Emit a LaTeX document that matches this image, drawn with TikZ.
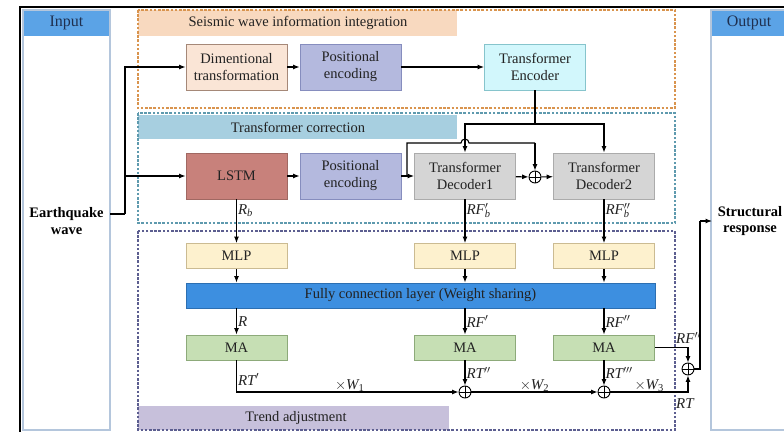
\documentclass[tikz,border=0pt]{standalone}
\usepackage{fontspec}
\setmainfont{Liberation Serif}
\usetikzlibrary{arrows.meta}
\definecolor{hdrblue}{HTML}{5BA3E6}
\definecolor{panelline}{HTML}{B4C6DC}
\definecolor{navy}{HTML}{1F3050}
\definecolor{orgline}{HTML}{D9944E}
\definecolor{orgfill}{HTML}{F8D9BF}
\definecolor{tealline}{HTML}{5E9AAE}
\definecolor{tealfill}{HTML}{A7CFE0}
\definecolor{purpline}{HTML}{5C5E90}
\definecolor{purpfill}{HTML}{C7C0DB}
\definecolor{dimfill}{HTML}{FAE5D6}
\definecolor{dimline}{HTML}{A58878}
\definecolor{posfill}{HTML}{B4B9DE}
\definecolor{posline}{HTML}{868DBE}
\definecolor{encfill}{HTML}{D2F7FC}
\definecolor{encline}{HTML}{86C4CC}
\definecolor{lstmfill}{HTML}{C8817B}
\definecolor{lstmline}{HTML}{A06862}
\definecolor{decfill}{HTML}{D5D5D5}
\definecolor{decline}{HTML}{ABABAB}
\definecolor{mlpfill}{HTML}{FDF1CE}
\definecolor{mlpline}{HTML}{CBBB92}
\definecolor{fcfill}{HTML}{3D8FE0}
\definecolor{fcline}{HTML}{2C6FB2}
\definecolor{mafill}{HTML}{C6DFB4}
\definecolor{maline}{HTML}{8DAA7A}
\definecolor{txt}{HTML}{222222}
\newcommand{\pr}{$^{\prime}$}
\newcommand{\ppr}{$^{\prime\prime}$}
\newcommand{\pppr}{$^{\prime\prime\prime}$}
\begin{document}
\begin{tikzpicture}[x=1pt,y=-1pt,
  every node/.style={text=txt},
  boxtxt/.style={font=\fontsize{14.5}{17}\selectfont},
  blk/.style={draw, line width=0.9pt, minimum width=101pt, minimum height=46pt,
    inner sep=0pt, align=center, boxtxt},
  thin/.style={blk, minimum height=25pt},
  zone/.style={line width=1.4pt, dash pattern=on 2.6pt off 1.6pt},
  wire/.style={line width=1.1pt, black},
  arr/.style={wire, -{Latex[length=6.5pt,width=5pt]}},
  sumnode/.style={circle, draw, line width=0.9pt, minimum size=12pt, inner sep=0pt,
    path picture={\draw[line width=0.9pt]
      (path picture bounding box.north) -- (path picture bounding box.south)
      (path picture bounding box.west) -- (path picture bounding box.east);}},
  lbl/.style={anchor=west, inner sep=1pt, font=\fontsize{15}{16}\selectfont\itshape},
  bold/.style={align=center, font=\fontsize{14.5}{16.5}\selectfont\bfseries, text=black},
  title/.style={font=\fontsize{16}{18}\selectfont, text=navy}
]
\useasboundingbox (0,0) rectangle (784,431);

% outer frame
\draw[line width=1.3pt, black] (20,440) -- (20,7) -- (800,7);

% input / output panels
\fill[hdrblue] (23,10) rectangle (110,36);
\draw[panelline, line width=1.6pt] (23,10) rectangle (110,430);
\node[title] (intitle) at (66.5,23) {Input};
\fill[hdrblue] (711,10) rectangle (795,36);
\draw[panelline, line width=1.6pt] (711,10) rectangle (795,430);
\node[title] (outtitle) at (749,23) {Output};

\node[bold] (eq) at (66.5,221) {Earthquake\\wave};
\node[bold] (sr) at (750,221) {Structural\\response};

% stage zones
\fill[orgfill] (138,10) rectangle (457,36);
\draw[zone, orgline] (138,10) rectangle (675,108);
\node[boxtxt] (z1) at (298,23) {Seismic wave information integration};

\fill[tealfill] (138,115) rectangle (457,139);
\draw[zone, tealline] (138,113) rectangle (675,223);
\node[boxtxt] (z2) at (298,127) {Transformer correction};

\fill[purpfill] (138,406) rectangle (449,430);
\draw[zone, purpline] (138,231) rectangle (675,430);
\node[boxtxt] (z3) at (296,418) {Trend adjustment};

% blocks
\node[blk, fill=dimfill, draw=dimline] (dim) at (236.5,67) {Dimentional\\transformation};
\node[blk, fill=posfill, draw=posline] (pos1) at (350.5,67) {Positional\\encoding};
\node[blk, fill=encfill, draw=encline] (enc) at (535,67) {Transformer\\Encoder};

\node[blk, fill=lstmfill, draw=lstmline] (lstm) at (236.5,176) {LSTM};
\node[blk, fill=posfill, draw=posline] (pos2) at (350.5,176) {Positional\\encoding};
\node[blk, fill=decfill, draw=decline] (dec1) at (465,176) {Transformer\\Decoder1};
\node[blk, fill=decfill, draw=decline] (dec2) at (604,176) {Transformer\\Decoder2};
\node[sumnode] (s0) at (535,177) {};

\node[thin, fill=mlpfill, draw=mlpline] (mlp1) at (236.5,256) {MLP};
\node[thin, fill=mlpfill, draw=mlpline] (mlp2) at (465,256) {MLP};
\node[thin, fill=mlpfill, draw=mlpline] (mlp3) at (604,256) {MLP};

\node[thin, fill=fcfill, draw=fcline, minimum width=469pt] (fc) at (420.5,295.5)
  {Fully connection layer (Weight sharing)};

\node[thin, fill=mafill, draw=maline] (ma1) at (236.5,347.5) {MA};
\node[thin, fill=mafill, draw=maline] (ma2) at (465,347.5) {MA};
\node[thin, fill=mafill, draw=maline] (ma3) at (604,347.5) {MA};

\node[sumnode] (s1) at (465,392) {};
\node[sumnode] (s2) at (604,392) {};
\node[sumnode] (s3) at (688,369) {};

% input distribution
\coordinate (eqout) at (110,214);
\coordinate (split) at (125,214);
\draw[wire] (eqout) -- (split);
\draw[arr] (split) |- (dim.west);
\draw[arr] (split) |- (lstm.west);

% upper chain
\draw[arr] (dim) -- (pos1);
\draw[arr] (pos1) -- (enc);
\draw[arr] (lstm) -- (pos2);
\draw[arr] (pos2) -- (dec1);
\draw[arr] (dec1) -- (s0);
\draw[arr] (s0) -- (dec2);

% encoder output to both decoders
\coordinate (bus) at (535,124);
\draw[wire] (enc.south) -- (bus);
\draw[arr] (bus) -| (dec2.north);
\draw[arr] (bus) -| (dec1.north);

% residual path around decoder 1 (hops over the encoder wire)
\coordinate (rtap) at (407,176);
\coordinate (rtop) at (407,143);
\draw[wire] (rtap) -- (rtop) -- (461,143) arc[start angle=180, end angle=360, radius=4]
  -- (535,143);
\draw[arr] (535,143) -- (s0.north);

% to MLPs
\draw[arr] (lstm.south) -- (mlp1.north) node[lbl, pos=0.25] {R\textsubscript{\textit{b}}};
\draw[arr] (dec1.south) -- (mlp2.north) node[lbl, pos=0.25] {RF\rlap{\pr}\textsubscript{\textit{b}}};
\draw[arr] (dec2.south) -- (mlp3.north) node[lbl, pos=0.25] {RF\rlap{\ppr}\textsubscript{\textit{b}}};

\foreach \m in {mlp1,mlp2,mlp3}{
  \draw[arr] (\m.south) -- (\m.south |- fc.north);
}
\draw[arr] (fc.south -| ma1) -- (ma1.north) node[lbl, midway] {R};
\draw[arr] (fc.south -| ma2) -- (ma2.north) node[lbl, midway] {RF\pr};
\draw[arr] (fc.south -| ma3) -- (ma3.north) node[lbl, midway] {RF\ppr};

% trend combination
\draw[arr] (ma1.south) |- (s1.west)
  node[lbl, pos=0.3] {RT\pr}
  node[lbl, pos=0.755, anchor=south, yshift=-1pt] {$\times$W\textsubscript{\upshape 1}};
\draw[arr] (ma2.south) -- (s1.north) node[lbl, midway] {RT\ppr};
\draw[arr] (s1.east) -- (s2.west) node[lbl, midway, anchor=south, yshift=-1pt] {$\times$W\textsubscript{\upshape 2}};
\draw[arr] (ma3.south) -- (s2.north) node[lbl, midway] {RT\pppr};
\draw[arr] (s2.east) -| (s3.south) node[lbl, pos=0.25, anchor=south, yshift=-1pt] {$\times$W\textsubscript{\upshape 3}};
\draw[arr] (ma3.east) -| (s3.north);
\node[lbl] (rflbl) at (675,338) {RF\ppr};
\node[lbl] (rtlbl) at (675,404) {RT};

% final output
\coordinate (up) at (700,369);
\coordinate (outin) at (712,221);
\draw[wire] (s3.east) -- (up) -- (up |- outin);
\draw[arr] (up |- outin) -- (outin);
\end{tikzpicture}
\end{document}
